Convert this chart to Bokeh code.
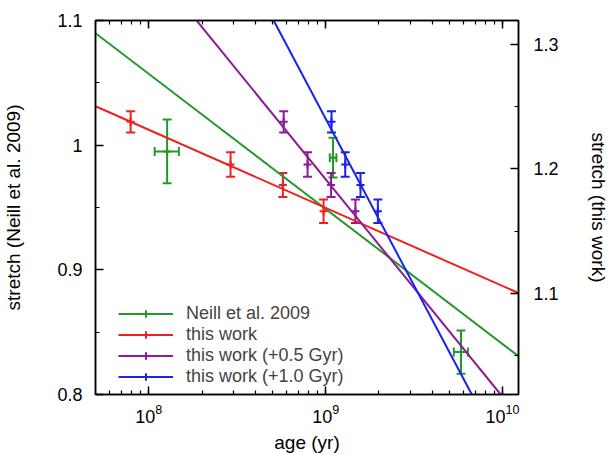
from bokeh.plotting import figure
from bokeh.models import (Range1d, LinearAxis, LogAxis, SingleIntervalTicker, LogTicker,
                          CustomJSTickFormatter, Whisker, TeeHead, ColumnDataSource,
                          Legend, LegendItem)
from bokeh.embed import file_html
from bokeh.resources import INLINE

# ---------------- data ----------------
# Neill et al. 2009 (left axis)
neill_age = [1.27e8, 1.10e9, 5.82e9]
neill_age_lo = [1.08e8, 1.055e9, 5.30e9]
neill_age_hi = [1.48e8, 1.15e9, 6.37e9]
neill_stretch = [0.995, 0.990, 0.834]
neill_err = [0.0256, 0.016, 0.0173]

# this work (right axis)
tw_age = [7.9e7, 2.9e8, 5.73e8, 9.73e8]
tw05_age = [5.79e8, 7.9e8, 1.073e9, 1.473e9]
tw10_age = [1.079e9, 1.29e9, 1.573e9, 1.973e9]
tw_stretch = [1.2377, 1.2035, 1.187, 1.166]
tw05_stretch = [1.2377, 1.2035, 1.187, 1.166]
tw10_stretch = [1.2377, 1.2035, 1.187, 1.166]
tw_err = [0.0085, 0.0098, 0.0096, 0.0094]

# fitted lines (end points)
neill_fit_age = [5e7, 1.23e10]
neill_fit_stretch = [1.0898, 0.8307]
tw_fit_age = [5e7, 1.23e10]
tw_fit_stretch = [1.2502, 1.1004]
tw05_fit_age = [1.865e8, 9.75e9]
tw05_fit_stretch = [1.319, 1.019]
tw10_fit_age = [5.08e8, 6.7e9]
tw10_fit_stretch = [1.319, 1.019]

labels = ["Neill et al. 2009", "this work", "this work (+0.5 Gyr)", "this work (+1.0 Gyr)"]
colors = ["#22992b", "#f02020", "#8c1a99", "#1a22ee"]

FONT = "Liberation Sans"
TICK_FS = "18px"
LAB_FS = "19px"

p = figure(width=611, height=455, x_axis_type="log",
           x_range=Range1d(5e7, 1.23e10), y_range=Range1d(0.8, 1.1),
           output_backend="svg", toolbar_location=None,
           min_border_left=95, min_border_right=89, min_border_top=20, min_border_bottom=60)
p.extra_y_ranges = {"right": Range1d(1.019, 1.319)}
p.grid.visible = False
p.outline_line_color = "black"
p.outline_line_width = 1.5
p.background_fill_color = "white"
p.border_fill_color = "white"

fmt = CustomJSTickFormatter(code="return (Math.round(tick*10)/10).toString();")


def style_axis(ax):
    ax.major_tick_in = 8
    ax.major_tick_out = 0
    ax.minor_tick_in = 4
    ax.minor_tick_out = 0
    ax.axis_line_width = 1.5
    ax.major_tick_line_width = 1.5
    ax.minor_tick_line_width = 1.2
    ax.axis_line_color = "black"
    ax.major_tick_line_color = "black"
    ax.minor_tick_line_color = "black"
    ax.major_label_text_font = FONT
    ax.major_label_text_font_size = TICK_FS
    ax.major_label_text_color = "black"
    ax.axis_label_text_font = FONT
    ax.axis_label_text_font_size = LAB_FS
    ax.axis_label_text_font_style = "normal"
    ax.axis_label_text_color = "black"


yl = p.yaxis[0]
yl.ticker = SingleIntervalTicker(interval=0.1, num_minor_ticks=2)
yl.formatter = fmt
style_axis(yl)
yl.axis_label = "stretch (Neill et al. 2009)"
yl.major_label_standoff = 13
yl.axis_label_standoff = 30

yr = LinearAxis(y_range_name="right",
                ticker=SingleIntervalTicker(interval=0.1, num_minor_ticks=2),
                formatter=fmt, axis_label="stretch (this work)")
style_axis(yr)
yr.major_label_standoff = 15
yr.axis_label_standoff = 26
p.add_layout(yr, "right")

xb = p.xaxis[0]
xb.ticker = LogTicker(num_minor_ticks=10)
style_axis(xb)
xb.axis_label = "age (yr)"
xb.major_label_standoff = 9
xb.axis_label_standoff = 6

xt = LogAxis(ticker=LogTicker(num_minor_ticks=10))
style_axis(xt)
xt.major_label_text_font_size = "2px"
xt.major_label_text_alpha = 0
xt.major_label_standoff = 0
p.add_layout(xt, "above")

# ---------------- fitted lines ----------------
l_neill = p.line(neill_fit_age, neill_fit_stretch, line_color=colors[0], line_width=2)
l_tw = p.line(tw_fit_age, tw_fit_stretch, line_color=colors[1], line_width=2, y_range_name="right")
l_tw05 = p.line(tw05_fit_age, tw05_fit_stretch, line_color=colors[2], line_width=2, y_range_name="right")
l_tw10 = p.line(tw10_fit_age, tw10_fit_stretch, line_color=colors[3], line_width=2, y_range_name="right")


def errbars(age, stretch, err, color, rname="default", xlo=None, xhi=None):
    data = dict(x=age, y=stretch,
                lo=[s - e for s, e in zip(stretch, err)],
                hi=[s + e for s, e in zip(stretch, err)])
    if xlo is not None:
        data["xlo"] = xlo
        data["xhi"] = xhi
    src = ColumnDataSource(data)
    w = Whisker(source=src, base="x", lower="lo", upper="hi", dimension="height",
                line_color=color, line_width=2, y_range_name=rname,
                lower_head=TeeHead(size=9, line_color=color, line_width=2),
                upper_head=TeeHead(size=9, line_color=color, line_width=2))
    p.add_layout(w)
    if xlo is not None:
        wx = Whisker(source=src, base="y", lower="xlo", upper="xhi", dimension="width",
                     line_color=color, line_width=2, y_range_name=rname,
                     lower_head=TeeHead(size=9, line_color=color, line_width=2),
                     upper_head=TeeHead(size=9, line_color=color, line_width=2))
        p.add_layout(wx)
    r = p.scatter("x", "y", source=src, marker="cross", size=8, line_color=color,
                  line_width=2, y_range_name=rname)
    return r


c_neill = errbars(neill_age, neill_stretch, neill_err, colors[0],
                  xlo=neill_age_lo, xhi=neill_age_hi)
c_tw = errbars(tw_age, tw_stretch, tw_err, colors[1], "right")
c_tw05 = errbars(tw05_age, tw05_stretch, tw_err, colors[2], "right")
c_tw10 = errbars(tw10_age, tw10_stretch, tw_err, colors[3], "right")

legend = Legend(items=[
    LegendItem(label=labels[0], renderers=[l_neill, c_neill]),
    LegendItem(label=labels[1], renderers=[l_tw, c_tw]),
    LegendItem(label=labels[2], renderers=[l_tw05, c_tw05]),
    LegendItem(label=labels[3], renderers=[l_tw10, c_tw10]),
], location=(23, 7), padding=0, spacing=0, margin=0,
    glyph_width=55, glyph_height=19, label_height=19, label_standoff=13,
    label_text_font=FONT, label_text_font_size="18px",
    border_line_alpha=0, background_fill_alpha=0)
p.add_layout(legend)

open("out.html", "w").write(file_html(p, INLINE))
